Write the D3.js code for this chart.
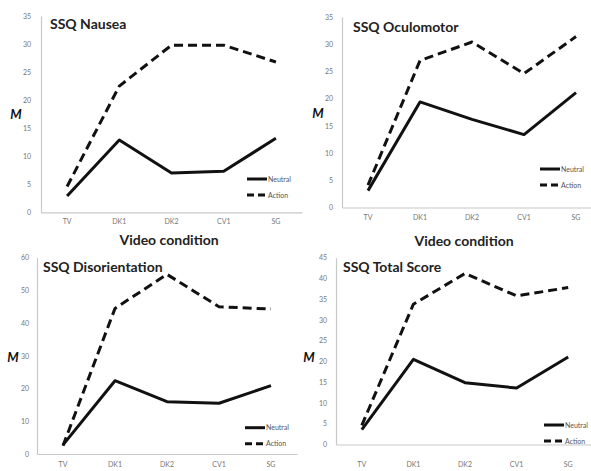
<!DOCTYPE html>
<html><head><meta charset="utf-8">
<script src="https://cdn.jsdelivr.net/npm/d3@7"></script>
<style>body{margin:0;background:#fff}svg{display:block}</style>
</head><body>
<svg id="c" width="591" height="471"></svg>
<script>
const categories = ["TV","DK1","DK2","CV1","SG"];
const seriesNames = ["Neutral","Action"];
const titles = ["SSQ Nausea","SSQ Oculomotor","SSQ Disorientation","SSQ Total Score"];
const nauseaNeutral = [2.9,12.9,7.0,7.3,13.2];
const nauseaAction  = [4.6,22.5,29.8,29.8,26.8];
const oculoNeutral  = [3.1,19.4,16.2,13.4,21.1];
const oculoAction   = [4.1,27.0,30.4,24.6,31.4];
const disorNeutral  = [2.8,22.4,16.0,15.5,20.9];
const disorAction   = [2.5,44.5,54.9,45.0,44.3];
const totalNeutral  = [3.6,20.5,14.9,13.6,21.1];
const totalAction   = [4.6,33.8,41.2,35.8,37.8];
const yMaxes = [35,35,60,45];
const yTickSteps = [5,5,10,5];
const xAxisTitle = "Video condition";
const yAxisTitle = "M";

const data = [
  [nauseaNeutral,nauseaAction],
  [oculoNeutral,oculoAction],
  [disorNeutral,disorAction],
  [totalNeutral,totalAction]
];
// layout per panel
const layout = [
  {x0:41,x1:302,y0:212.3,y1:16,  lab:10, mx:16, my:114, tx:50, ty:29, lgx:247, lgy:179, xl:222},
  {x0:342,x1:602,y0:207.5,y1:17, lab:9, mx:318,my:113, tx:353,ty:32, lgx:540, lgy:169, xl:218},
  {x0:37,x1:297,y0:454,y1:257.7, lab:8, mx:13, my:357, tx:43, ty:272, lgx:245, lgy:427.7, xl:465},
  {x0:336,x1:594,y0:444.5,y1:257.7,lab:9, mx:309,my:357, tx:343,ty:272, lgx:544, lgy:425, xl:465}
];
const svg = d3.select("#c");
const font = "Lato, 'Open Sans', sans-serif";

layout.forEach((L,i)=>{
  const g = svg.append("g");
  const x = d3.scaleBand().domain(categories).range([L.x0,L.x1]);
  const y = d3.scaleLinear().domain([0,yMaxes[i]]).range([L.y0,L.y1]);
  const ticks = d3.range(0,yMaxes[i]+0.001,yTickSteps[i]);
  // y axis
  const ya = g.append("g").attr("transform",`translate(${L.x0},0)`)
    .call(d3.axisLeft(y).tickValues(ticks).tickSize(0).tickPadding(L.lab));
  ya.select(".domain").attr("stroke","#c8c8c8").attr("stroke-width",1.2);
  ya.selectAll("text").attr("font-family",font).attr("font-size",7).attr("fill","#777");
  // x axis
  const xa = g.append("g").attr("transform",`translate(0,${L.y0})`)
    .call(d3.axisBottom(x).tickSize(0).tickPadding(L.xl-L.y0-3));
  xa.select(".domain").attr("stroke","#c8c8c8").attr("stroke-width",1.2);
  xa.selectAll("text").attr("font-family",font).attr("font-size",7).attr("fill","#777");
  // lines
  const line = d3.line().x((d,j)=>x(categories[j])+x.bandwidth()/2).y(d=>y(d));
  data[i].forEach((vals,s)=>{
    g.append("path").datum(vals).attr("d",line).attr("fill","none")
      .attr("stroke","#111").attr("stroke-width",3).attr("stroke-linejoin","round")
      .attr("stroke-dasharray", s===1 ? "9,5" : null);
  });
  // title
  g.append("text").attr("x",L.tx).attr("y",L.ty).text(titles[i])
    .attr("font-family",font).attr("font-weight","bold").attr("font-size",14).attr("fill","#222");
  // M
  g.append("text").attr("x",L.mx).attr("y",L.my+5).attr("text-anchor","middle").text(yAxisTitle)
    .attr("font-family",font).attr("font-weight","bold").attr("font-style","italic")
    .attr("font-size",13).attr("fill","#111");
  // legend
  seriesNames.forEach((n,s)=>{
    const ly = L.lgy + s*16;
    g.append("line").attr("x1",L.lgx).attr("x2",L.lgx+20).attr("y1",ly).attr("y2",ly)
      .attr("stroke","#111").attr("stroke-width",3).attr("stroke-dasharray", s===1 ? "7,4" : null);
    g.append("text").attr("x",L.lgx+21).attr("y",ly+2.5).text(n)
      .attr("font-family",font).attr("font-size",7).attr("fill","#555");
  });
});
// x axis titles
[[169,245],[464,246]].forEach(p=>{
  svg.append("text").attr("x",p[0]).attr("y",p[1]).attr("text-anchor","middle").text(xAxisTitle)
    .attr("font-family",font).attr("font-weight","bold").attr("font-size",14).attr("fill","#222");
});
</script>
</body></html>
